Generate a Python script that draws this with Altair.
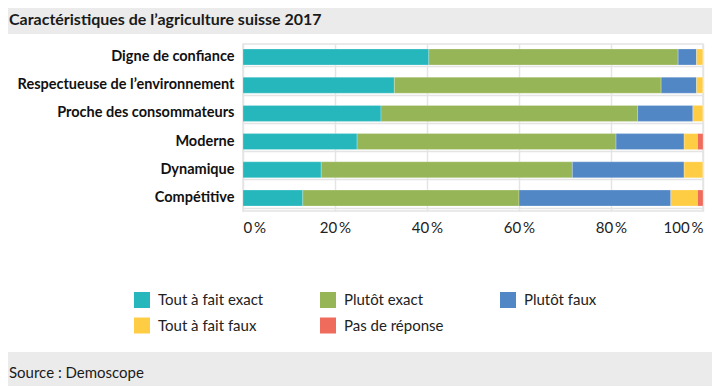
import altair as alt
import pandas as pd

FONT = "Lato, Roboto, sans-serif"

title_text = "Caractéristiques de l’agriculture suisse 2017"
source_text = "Source : Demoscope"

categories = [
    "Digne de confiance",
    "Respectueuse de l’environnement",
    "Proche des consommateurs",
    "Moderne",
    "Dynamique",
    "Compétitive",
]
responses = ["Tout à fait exact", "Plutôt exact", "Plutôt faux", "Tout à fait faux", "Pas de réponse"]
colors = ["#26b7bc", "#96b556", "#5287c6", "#ffcd44", "#ef6b5b"]

tout_exact = [40.4, 32.9, 30.0, 24.8, 17.0, 13.0]
plutot_exact = [54.2, 58.0, 55.8, 56.3, 54.6, 47.0]
plutot_faux = [4.0, 7.7, 12.0, 14.8, 24.3, 33.0]
tout_faux = [1.4, 1.4, 2.2, 2.9, 4.1, 5.8]
pas_reponse = [0.0, 0.0, 0.0, 1.2, 0.0, 1.2]
x_ticks = [0, 20, 40, 60, 80, 100]

series = [tout_exact, plutot_exact, plutot_faux, tout_faux, pas_reponse]
rows = []
for k, (resp, vals) in enumerate(zip(responses, series)):
    for cat, v in zip(categories, vals):
        rows.append({"category": cat, "response": resp, "value": v, "idx": k})
df = pd.DataFrame(rows)
one = pd.DataFrame({"a": [0]})

GRID = "#e4e4e4"
GRAY = "#ebebeb"

bars = alt.Chart(df).mark_bar(stroke="#ffffff", strokeWidth=0.6, strokeOpacity=0.4).encode(
    x=alt.X(
        "value:Q",
        stack="zero",
        scale=alt.Scale(domain=[0, 100], nice=False),
        axis=alt.Axis(
            values=x_ticks,
            labelExpr="datum.value + '\u2009%'",
            title=None,
            domain=False,
            ticks=False,
            grid=True,
            gridColor=GRID,
            gridWidth=1.5,
            labelFlush=True,
            labelPadding=9,
            labelFontSize=15,
            labelFont=FONT,
            labelColor="#222222",
        ),
    ),
    y=alt.Y(
        "category:N",
        sort=categories,
        scale=alt.Scale(paddingInner=0.433, paddingOuter=0.177),
        axis=alt.Axis(
            title=None,
            domain=False,
            ticks=False,
            grid=True,
            bandPosition=1.125,
            gridColor=GRID,
            gridWidth=1.5,
            labelFont=FONT,
            labelFontWeight="bold",
            labelFontSize=14.5,
            labelColor="#111111",
            labelPadding=9,
            labelLimit=400,
        ),
    ),
    color=alt.Color(
        "response:N",
        sort=responses,
        scale=alt.Scale(domain=responses, range=colors),
        legend=alt.Legend(
            title=None,
            orient="none",
            legendX=-109,
            legendY=248,
            direction="horizontal",
            columns=3,
            symbolType="square",
            symbolSize=256,
            symbolStrokeWidth=0,
            symbolOpacity=1,
            labelFont=FONT,
            labelFontSize=15,
            labelColor="#222222",
            labelOffset=8,
            rowPadding=9.5,
            columnPadding=56,
            padding=0,
        ),
    ),
    order=alt.Order("idx:Q"),
)

top_strip = alt.Chart(one).mark_rect(color=GRAY).encode(
    x=alt.value(-240), x2=alt.value(480), y=alt.value(-40), y2=alt.value(-10)
)
bottom_strip = alt.Chart(one).mark_rect(color=GRAY).encode(
    x=alt.value(-240), x2=alt.value(480), y=alt.value(308), y2=alt.value(345)
)
title = alt.Chart(one).mark_text(
    text=title_text, align="left", baseline="alphabetic", fontSize=16, font=FONT,
    fontWeight=700, color="#1a1a1a"
).encode(x=alt.value(-234), y=alt.value(-19.5))
source = alt.Chart(one).mark_text(
    text=source_text, align="left", baseline="alphabetic", fontSize=15, font=FONT,
    color="#1a1a1a"
).encode(x=alt.value(-234), y=alt.value(334))

chart = alt.layer(top_strip, bottom_strip, bars, title, source).properties(
    width=460,
    height=167,
    padding={"left": 235, "top": 36, "right": 9, "bottom": 175},
    autosize="none",
    background="white",
).configure_view(stroke=GRID, strokeWidth=1.5)

chart.save("out.html", embed_options={"renderer": "svg", "actions": False})
